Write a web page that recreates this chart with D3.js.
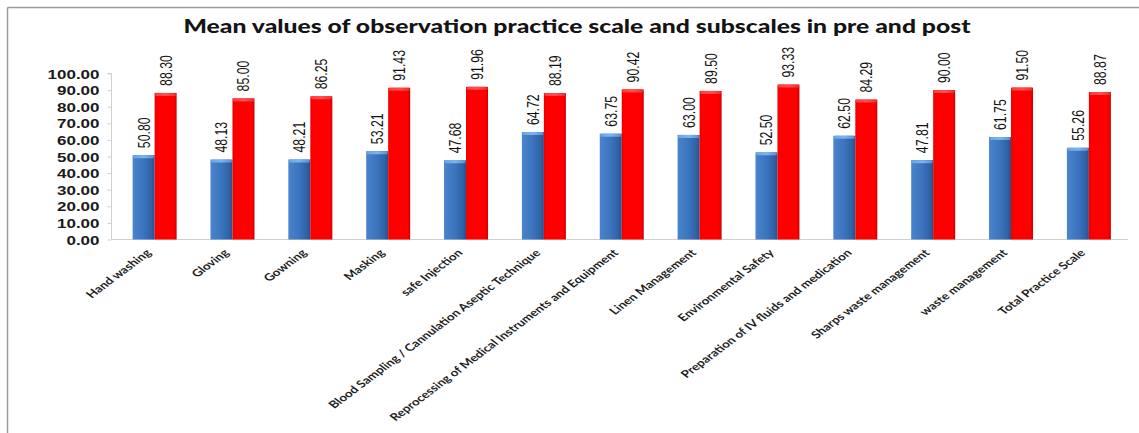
<!DOCTYPE html>
<html><head><meta charset="utf-8">
<script src="https://cdn.jsdelivr.net/npm/d3@7"></script>
<style>html,body{margin:0;padding:0;background:#fff;}svg{display:block;}</style>
</head><body>
<script>
const categories = ["Hand washing","Gloving","Gowning","Masking","safe Injection",
  "Blood Sampling / Cannulation Aseptic Technique","Reprocessing of Medical Instruments and Equipment",
  "Linen Management","Environmental Safety","Preparation of IV fluids and medication",
  "Sharps waste management","waste management","Total Practice  Scale"];
const pre  = [50.80,48.13,48.21,53.21,47.68,64.72,63.75,63.00,52.50,62.50,47.81,61.75,55.26];
const post = [88.30,85.00,86.25,91.43,91.96,88.19,90.42,89.50,93.33,84.29,90.00,91.50,88.87];
const yTicks = [0,10,20,30,40,50,60,70,80,90,100];
const title = "Mean values of observation practice scale and subscales in pre and post";

const W = 1139, H = 433, SX = 1.33;
const svg = d3.select("body").append("svg").attr("width", W).attr("height", H);
const defs = svg.append("defs");
function hgrad(id, stops){
  const g = defs.append("linearGradient").attr("id", id).attr("x1","0").attr("x2","1").attr("y1","0").attr("y2","0");
  stops.forEach(s => g.append("stop").attr("offset", s[0]).attr("stop-color", s[1]));
}
hgrad("gBlue", [[0,"#4a84cc"],[0.45,"#3d76c0"],[0.85,"#2f62a6"],[1,"#274f88"]]);
hgrad("gRed", [[0,"#e80000"],[0.12,"#ff0000"],[0.88,"#ff0000"],[1,"#c80000"]]);
hgrad("gBlueTop", [[0,"#6aa4e6"],[0.5,"#7db4f0"],[1,"#5a90d4"]]);
hgrad("gRedTop", [[0,"#ff3a3a"],[0.5,"#ff5050"],[1,"#e83030"]]);

// frame
svg.append("line").attr("x1",7.5).attr("x2",W).attr("y1",7.5).attr("y2",7.5).attr("stroke","#9a9a9a").attr("stroke-width",1.5);
svg.append("line").attr("x1",7.5).attr("x2",7.5).attr("y1",7.5).attr("y2",H).attr("stroke","#9a9a9a").attr("stroke-width",1.5);

// title
svg.append("text").attr("x",577).attr("y",33).attr("text-anchor","middle")
  .attr("font-family","Lato, 'Open Sans', sans-serif").attr("font-weight","900").attr("font-size",18.5)
  .attr("fill","#141414").attr("textLength",787).attr("lengthAdjust","spacingAndGlyphs").text(title);

const y = d3.scaleLinear().domain([0,100]).range([239.5,73.5]);
const x = d3.scaleBand().domain(categories).range([115.5,1128]).paddingInner(0.435).paddingOuter(0.22);
const xs = d3.scaleBand().domain(["pre","post"]).range([0, x.bandwidth()]);

// y axis
const yAxis = d3.axisLeft(y).tickValues(yTicks).tickSize(4).tickFormat(d3.format(".2f"));
const ya = svg.append("g").attr("transform","translate(111.5,0)").call(yAxis);
ya.select(".domain").attr("stroke","#d0d0d0").attr("d","M-4,73.5H0V239.5");
ya.selectAll(".tick line").attr("stroke","#d0d0d0");
ya.selectAll(".tick text").remove();
ya.selectAll(".tick").append("text")
  .attr("transform","translate(-12,0) scale(1.36,1)")
  .attr("text-anchor","end").attr("dy","0.36em")
  .attr("font-family","'Liberation Sans', Arial, sans-serif").attr("font-weight","bold").attr("font-size",12.5)
  .attr("fill","#1a1a1a").text(d => d3.format(".2f")(d));

// baseline
svg.append("line").attr("x1",111.5).attr("x2",1128).attr("y1",239.5).attr("y2",239.5).attr("stroke","#d0d0d0").attr("stroke-width",1.2);

const groups = svg.append("g").selectAll("g").data(categories).join("g")
  .attr("transform", d => `translate(${x(d)},0)`);

function drawBars(key, vals, fill, topFill){
  const g = groups.append("g");
  g.append("rect").attr("x", xs(key)).attr("width", xs.bandwidth())
    .attr("y", (d,i) => y(vals[i])).attr("height", (d,i) => y(0) - y(vals[i])).attr("fill", `url(#${fill})`);
  g.append("rect").attr("x", xs(key)+0.5).attr("width", xs.bandwidth()-1)
    .attr("y", (d,i) => y(vals[i])).attr("height", 3).attr("rx",1.5).attr("fill", `url(#${topFill})`);
  g.append("text")
    .attr("transform", (d,i) => `translate(${xs(key)+xs.bandwidth()/2},${y(vals[i])-7}) scale(${SX},1) rotate(-90)`)
    .attr("dy","0.36em").attr("text-anchor","start")
    .attr("font-family","'Liberation Sans', Arial, sans-serif").attr("font-size",12.3)
    .attr("fill","#111").text((d,i) => vals[i].toFixed(2));
}
drawBars("pre", pre, "gBlue", "gBlueTop");
drawBars("post", post, "gRed", "gRedTop");

// x labels
svg.append("g").selectAll("text").data(categories).join("text")
  .attr("transform", d => `translate(${x(d)+x.bandwidth()/2-6},251) scale(${SX},1) rotate(-45)`)
  .attr("text-anchor","end").attr("dy","0.35em")
  .attr("font-family","Lato, 'Open Sans', sans-serif").attr("font-weight","bold").attr("font-size",10.2)
  .attr("fill","#1e1e1e").text(d => d);
</script>
</body></html>
